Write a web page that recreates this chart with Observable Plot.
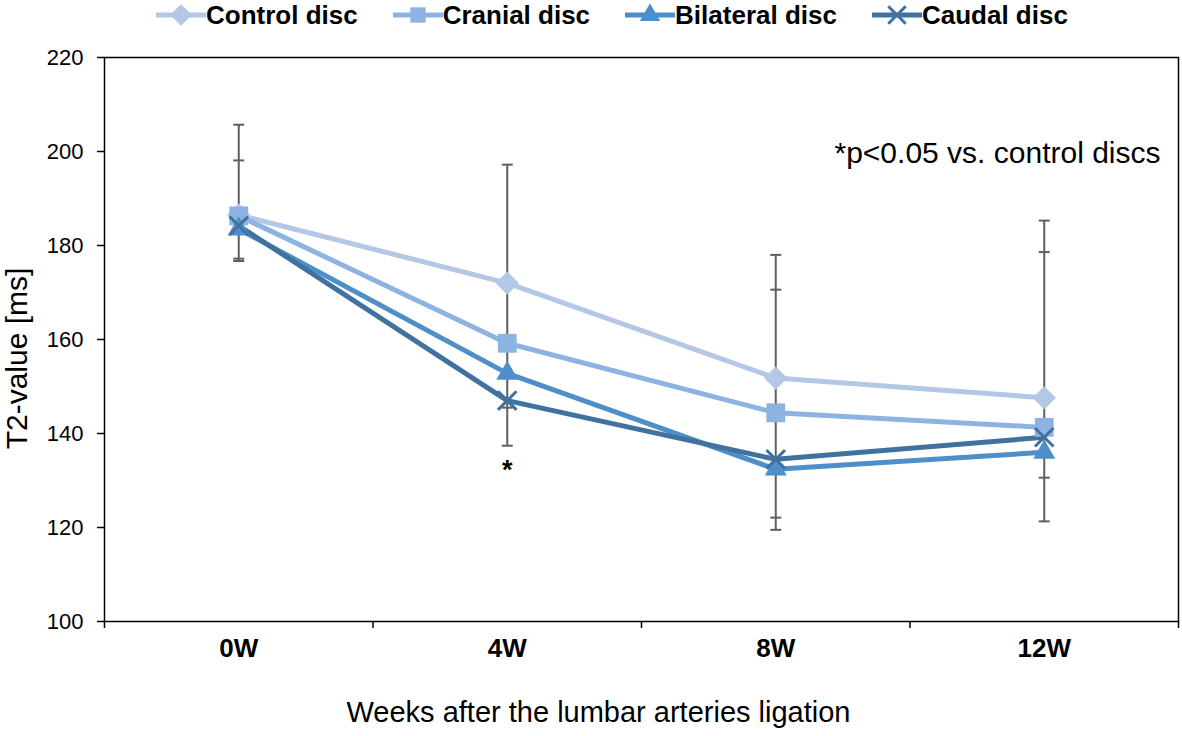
<!DOCTYPE html>
<html><head><meta charset="utf-8">
<script src="https://cdn.jsdelivr.net/npm/d3@7"></script>
<script src="https://cdn.jsdelivr.net/npm/@observablehq/plot@0.6"></script>
<style>
body{margin:0;background:#fff;font-family:"Liberation Sans",Arial,sans-serif;}
#wrap{position:relative;width:1182px;height:736px;}
#legend{position:absolute;top:0;left:156px;display:flex;gap:35px;align-items:center;height:30px;line-height:30px;font-weight:bold;font-size:26px;color:#000;}
.item{display:flex;align-items:center;}
.item svg{display:block;}
</style></head><body><div id="wrap"><div id="chart"></div><div id="legend"></div></div>
<script>
const weeks = [0, 4, 8, 12];
const weekLabels = ["0W", "4W", "8W", "12W"];
const seriesNames = ["Control disc", "Cranial disc", "Bilateral disc", "Caudal disc"];
const control   = [186.5, 172.0, 151.8, 147.6];
const cranial   = [186.3, 159.2, 144.4, 141.3];
const bilateral = [183.5, 152.8, 132.4, 136.0];
const caudal    = [184.2, 147.0, 134.5, 139.2];
const errHiA = [205.7, 197.2, 178.0, 185.3];
const errHiB = [198.1, null, 170.6, 178.6];
const errLoA = [177.2, 145.5, 122.1, 130.6];
const errLoB = [176.7, 137.4, 119.5, 121.3];
const sigWeeks = [4];
const sigLabel = "*";
const yTicks = [100, 120, 140, 160, 180, 200, 220];
const yTitle = "T2-value [ms]";
const xTitle = "Weeks after the lumbar arteries ligation";
const note = "*p<0.05 vs. control discs";
const colors = ["#b4c7e7", "#8db3e2", "#4f8fc9", "#41729f"];
const symbols = ["diamond2", "square2", "triangle2", "times"];

const seriesValues = [control, cranial, bilateral, caudal];
const rows = [];
seriesNames.forEach((s, i) => weeks.forEach((w, j) => rows.push({series: s, week: w, value: seriesValues[i][j]})));
const caps = [];
[errHiA, errHiB, errLoA, errLoB].forEach(arr => arr.forEach((v, j) => { if (v != null) caps.push({week: weeks[j], value: v}); }));
const bars = weeks.map((w, j) => {
  const vals = [errHiA[j], errHiB[j], errLoA[j], errLoB[j]].filter(v => v != null);
  return {week: w, lo: d3.min(vals), hi: d3.max(vals)};
});
const sig = sigWeeks.map(w => {
  const j = weeks.indexOf(w);
  return {week: w, value: bars[j].lo, label: sigLabel};
});
const boundaries = [weeks[0] - 2, ...weeks.map(w => w + 2)];
const capSymbol = {draw(ctx, size) { const r = Math.sqrt(size / Math.PI); ctx.moveTo(-r, 0); ctx.lineTo(r, 0); }};
const errColor = "#5f5f5f";
const font = "Liberation Sans, Arial, sans-serif";

const marks = [
  Plot.ruleX(bars, {x: "week", y1: "lo", y2: "hi", stroke: errColor, strokeWidth: 2}),
  Plot.dot(caps, {x: "week", y: "value", symbol: capSymbol, r: 5.5, stroke: errColor, strokeWidth: 2}),
  Plot.line(rows, {x: "week", y: "value", z: "series", stroke: "series", strokeWidth: 5})
];
seriesNames.forEach((s, i) => {
  const d = rows.filter(r => r.series === s);
  if (symbols[i] === "times") marks.push(Plot.dot(d, {x: "week", y: "value", symbol: symbols[i], r: 8.5, stroke: colors[i], strokeWidth: 3}));
  else marks.push(Plot.dot(d, {x: "week", y: "value", symbol: symbols[i], r: symbols[i] === "square2" ? 12 : 10.5, fill: colors[i]}));
});

const chart = Plot.plot({
  width: 1182, height: 736,
  marginTop: 57, marginBottom: 115, marginLeft: 104, marginRight: 4,
  style: {fontFamily: font, background: "white", color: "#000"},
  x: {domain: [boundaries[0], boundaries[boundaries.length - 1]]},
  y: {domain: [yTicks[0], yTicks[yTicks.length - 1]]},
  color: {domain: seriesNames, range: colors},
  marks: [
    ...marks,
    Plot.frame({stroke: "black", strokeWidth: 1.5}),
    Plot.axisY({ticks: yTicks, tickSize: 7, tickPadding: 14, fontSize: 22, label: null, strokeWidth: 1.5}),
    Plot.axisX({ticks: boundaries, tickSize: 7, tickFormat: () => "", label: null, strokeWidth: 1.5}),
    Plot.axisX({ticks: weeks, tickSize: 0, tickPadding: 17, tickFormat: d => weekLabels[weeks.indexOf(d)], fontSize: 26, fontWeight: "bold", label: null}),
    Plot.text(sig, {x: "week", y: "value", text: "label", dy: 25, fontSize: 27, fontWeight: "bold", lineAnchor: "middle"}),
    Plot.text([note], {text: d => d, frameAnchor: "top-right", textAnchor: "end", dx: -18, dy: 96, fontSize: 30, lineAnchor: "middle"}),
    Plot.text([yTitle], {text: d => d, frameAnchor: "left", textAnchor: "middle", rotate: -90, dx: -87, dy: 19, fontSize: 30, lineAnchor: "middle"}),
    Plot.text([xTitle], {text: d => d, frameAnchor: "bottom", textAnchor: "middle", dx: -43, dy: 91, fontSize: 29, lineAnchor: "middle"})
  ]
});
document.getElementById("chart").appendChild(chart);

const legend = d3.select("#legend");
const symMap = {diamond2: d3.symbolDiamond2, square2: d3.symbolSquare2, triangle2: d3.symbolTriangle2, times: d3.symbolTimes};
seriesNames.forEach((s, i) => {
  const item = legend.append("div").attr("class", "item");
  const svg = item.append("svg").attr("width", 50).attr("height", 24);
  svg.append("line").attr("x1", 0).attr("x2", 50).attr("y1", 12).attr("y2", 12).attr("stroke", colors[i]).attr("stroke-width", 5);
  const p = svg.append("path").attr("transform", "translate(25,12)").attr("d", d3.symbol(symMap[symbols[i]], symbols[i] === "times" ? 200 : 300)());
  if (symbols[i] === "times") p.attr("fill", "none").attr("stroke", colors[i]).attr("stroke-width", 3);
  else p.attr("fill", colors[i]);
  item.append("span").text(s);
});
</script></body></html>
